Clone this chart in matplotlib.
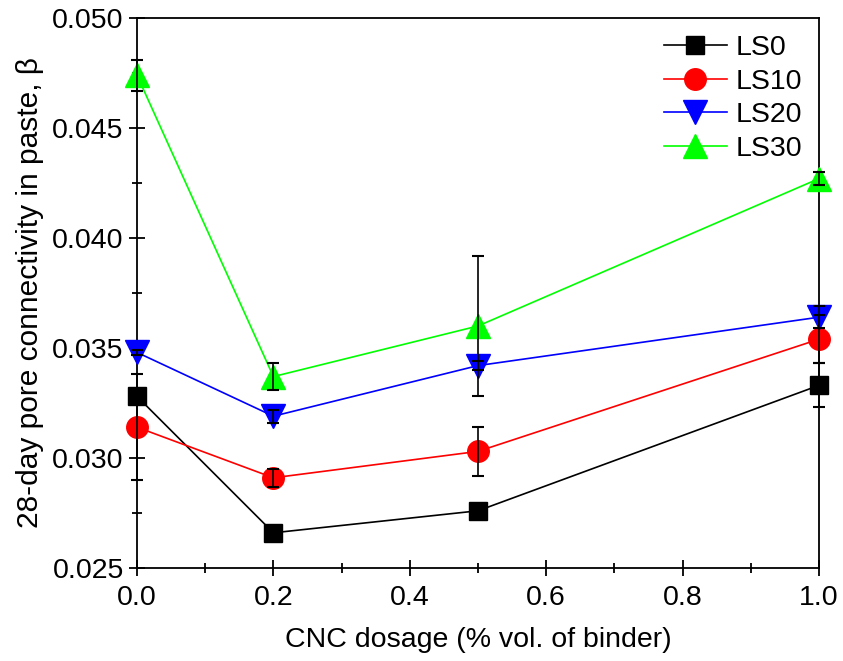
import numpy as np
import matplotlib
matplotlib.use("Agg")
import matplotlib.pyplot as plt
from matplotlib.ticker import MultipleLocator

plt.rcParams['font.family'] = ['Liberation Sans', 'DejaVu Sans']

# CNC dosage (% vol. of binder)
dosage = [0.0, 0.2, 0.5, 1.0]

# 28-day pore connectivity and error
ls0 = [0.0328, 0.0266, 0.0276, 0.0333]
ls0_err = [0.0, 0.0, 0.0, 0.0010]
ls10 = [0.0314, 0.0291, 0.0303, 0.0354]
ls10_err = [0.0024, 0.0004, 0.0011, 0.0011]
ls20 = [0.0348, 0.0319, 0.0342, 0.0364]
ls20_err = [0.0001, 0.0003, 0.0002, 0.0005]
ls30 = [0.0474, 0.0337, 0.0360, 0.0427]
ls30_err = [0.0007, 0.0006, 0.0032, 0.0003]

series = [
    ("LS0", ls0, ls0_err, "#000000", "s", 13),
    ("LS10", ls10, ls10_err, "#ff0000", "o", 15.5),
    ("LS20", ls20, ls20_err, "#0000ff", "v", 17),
    ("LS30", ls30, ls30_err, "#00ff00", "^", 17),
]

fig = plt.figure(figsize=(8.43, 6.61), dpi=100)
ax = fig.add_axes([0.1625, 0.1407, 0.809, 0.8321])

for name, vals, err, col, mk, ms in series:
    ax.plot(dosage, vals, color=col, marker=mk, markersize=ms, lw=1.2,
            label=name, clip_on=False, zorder=3)
for name, vals, err, col, mk, ms in series:
    ax.errorbar(dosage, vals, yerr=err, fmt="none", ecolor="black",
                elinewidth=1.2, capsize=4.5, capthick=1.5, clip_on=False, zorder=4)

ax.set_xlim(0, 1.0)
ax.set_ylim(0.025, 0.050)
ax.xaxis.set_major_locator(MultipleLocator(0.2))
ax.xaxis.set_minor_locator(MultipleLocator(0.1))
ax.yaxis.set_major_locator(MultipleLocator(0.005))
ax.yaxis.set_minor_locator(MultipleLocator(0.0025))
ax.xaxis.set_major_formatter(matplotlib.ticker.FormatStrFormatter("%.1f"))
ax.yaxis.set_major_formatter(matplotlib.ticker.FormatStrFormatter("%.3f"))
ax.tick_params(which="major", direction="inout", length=12, width=1.3, labelsize=20.5)
ax.tick_params(axis="x", which="major", pad=6)
ax.tick_params(which="minor", direction="inout", length=7, width=1.3)
for s in ax.spines.values():
    s.set_linewidth(1.3)

ax.set_xlabel("CNC dosage (% vol. of binder)", fontsize=20.5, labelpad=12)
ax.set_ylabel("28-day pore connectivity in paste, \u03b2", fontsize=21.5, labelpad=6)

ax.legend(loc="upper right", frameon=False, fontsize=20.5, handlelength=2.2,
          labelspacing=0.27, handletextpad=0.3, borderaxespad=0.3,
          borderpad=0.3)

fig.savefig("out.png", dpi=100)
